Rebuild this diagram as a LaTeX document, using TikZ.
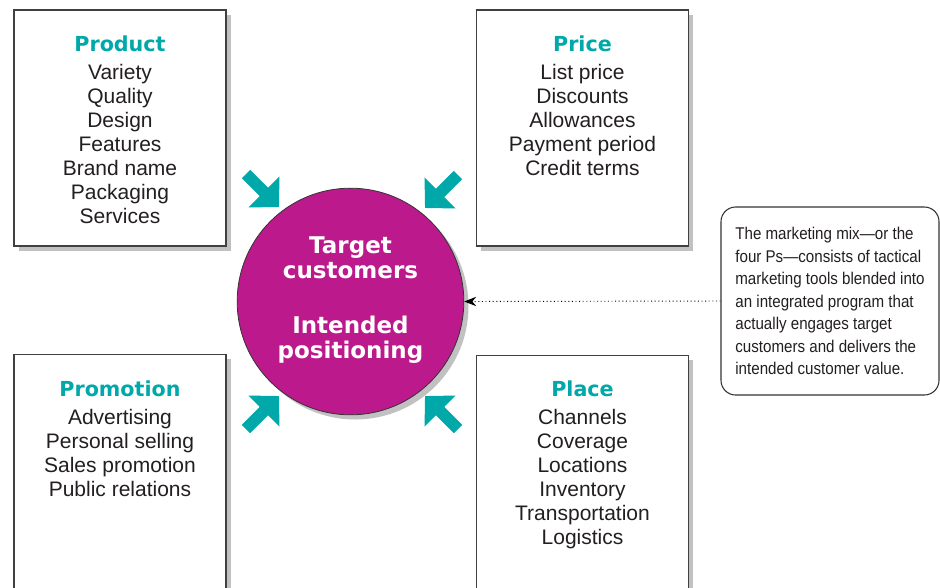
\documentclass[tikz,border=0pt]{standalone}
\usepackage{fontspec}
\setmainfont{Liberation Sans}
\newfontfamily\headfont{DejaVu Sans}
\newfontfamily\notefont{Liberation Sans}[FakeStretch=0.89,Ligatures=TeX]
\usetikzlibrary{positioning,shadows,arrows.meta}
\definecolor{pteal}{RGB}{0,168,170}
\definecolor{pmagenta}{RGB}{188,26,140}
\definecolor{ink}{RGB}{35,31,32}
\newcommand{\mixtitle}[1]{{\headfont\bfseries\fontsize{15.5}{18}\selectfont\textcolor{pteal}{#1}}\\[3.4pt]}

\begin{document}
\begin{tikzpicture}[x=0.75pt,y=-0.75pt,
    pbox/.style={draw=black!75,line width=0.8pt,fill=white,minimum width=159pt,minimum height=177pt,
        drop shadow={shadow xshift=3.5pt,shadow yshift=-3.5pt,opacity=.4,fill=black!60}},
    plist/.style={align=center,inner sep=0pt,text=ink,font=\fontsize{15.75}{18}\selectfont},
    mixarrow/.style={line width=9pt,pteal,-{Triangle[width=32pt,length=16pt]}}]
    \clip (0,0) rectangle (940,587);
    \fill[white] (0,0) rectangle (940,587);
    % the four Ps
    \node[pbox](product) at (120,128) {};
    \node[pbox](price) at (582.5,128) {};
    \node[pbox,minimum height=188pt](promotion) at (120,480) {};
    \node[pbox,minimum height=188pt](place) at (582.5,481) {};
    \node[plist,below=19.5pt of product.north](productList) {\mixtitle{Product}
        Variety\\ Quality\\ Design\\ Features\\ Brand name\\ Packaging\\ Services};
    \node[plist,below=19.5pt of price.north](priceList) {\mixtitle{Price}
        List price\\ Discounts\\ Allowances\\ Payment period\\ Credit terms};
    \node[plist,below=19.5pt of promotion.north](promotionList) {\mixtitle{Promotion}
        Advertising\\ Personal selling\\ Sales promotion\\ Public relations};
    \node[plist,below=19pt of place.north](placeList) {\mixtitle{Place}
        Channels\\ Coverage\\ Locations\\ Inventory\\ Transportation\\ Logistics};
    % centre
    \node[circle,fill=pmagenta,draw=black!80,line width=0.6pt,minimum size=170pt,
        drop shadow={shadow xshift=3.5pt,shadow yshift=-3.5pt,opacity=.4,fill=black!60}](target) at (350.5,301.5) {};
    \node[align=center,text=white,font=\headfont\bfseries\fontsize{17.25}{18.75}\selectfont](targetText) at (350.5,300)
        {Target\\ customers\\[22.5pt] Intended\\ positioning};
    % arrows
    \coordinate(tl) at (246,174); \coordinate(tlTip) at (279,207);
    \coordinate(tr) at (458,175); \coordinate(trTip) at (425,208);
    \coordinate(bl) at (246,429); \coordinate(blTip) at (279,396);
    \coordinate(br) at (458,429); \coordinate(brTip) at (425,396);
    \draw[mixarrow] (tl) -- (tlTip);
    \draw[mixarrow] (tr) -- (trTip);
    \draw[mixarrow] (bl) -- (blTip);
    \draw[mixarrow] (br) -- (brTip);
    % note
    \node[draw=black!80,line width=0.8pt,rounded corners=11pt,minimum width=163.5pt,minimum height=141pt,
        align=left,text=ink,font=\notefont\fontsize{12.75}{16.9}\selectfont](note) at (830,301)
        {The marketing mix---or the\\ four Ps---consists of tactical\\ marketing tools blended into\\
         an integrated program that\\ actually engages target\\ customers and delivers the\\ intended customer value.};
    \draw[dotted,line width=0.7pt,-{Stealth[length=9pt,width=7pt]}] (note.west) -- (target.east);
\end{tikzpicture}
\end{document}
